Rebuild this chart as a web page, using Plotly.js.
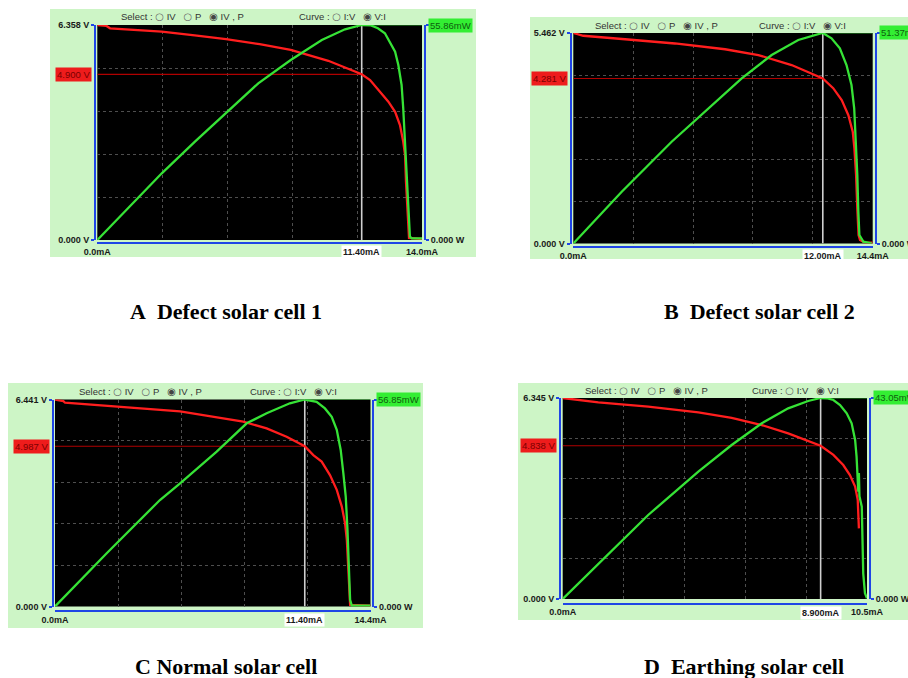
<!DOCTYPE html>
<html><head><meta charset="utf-8">
<script src="https://cdn.plot.ly/plotly-3.0.1.min.js"></script>
<style>html,body{margin:0;padding:0;background:#fff}#chart{width:908px;height:678px}</style>
</head><body><div id="chart"></div>
<script>
// ---------------- DATA ----------------
// Panel A : Defect solar cell 1
const iV_A = [0, 0.40, 0.55, 1.5, 2.78, 4.2, 5.55, 7.0, 8.34, 9.96, 10.8, 11.40, 11.76, 12.19, 12.55, 12.84, 13.05, 13.19, 13.27, 13.31, 13.37, 13.44, 14.0];
const v_A  = [6.358, 6.33, 6.26, 6.22, 6.16, 6.05, 5.94, 5.79, 5.62, 5.30, 5.08, 4.900, 4.73, 4.38, 4.09, 3.79, 3.40, 2.91, 2.51, 1.72, 0.74, 0.06, 0.03];
const iP_A = [0, 1.34, 2.78, 4.21, 5.55, 6.94, 8.34, 9.68, 10.68, 11.40, 11.80, 12.10, 12.40, 12.62, 12.84, 12.98, 13.12, 13.19, 13.27, 13.34, 13.41, 13.48, 13.56, 14.0];
const p_A  = [0, 8.3, 17.33, 25.54, 33.08, 40.71, 46.77, 51.96, 54.74, 55.86, 55.75, 55.0, 53.70, 51.10, 48.92, 45.47, 40.27, 34.30, 23.90, 15.14, 6.50, 0.86, 0.44, 0.44];
// Panel B : Defect solar cell 2
const iV_B = [0, 0.48, 2.49, 4.89, 7.30, 8.90, 10.50, 12.00, 12.50, 12.91, 13.23, 13.44, 13.52, 13.60, 13.66, 13.72, 13.79, 14.0, 14.4];
const v_B  = [5.462, 5.39, 5.30, 5.19, 5.04, 4.89, 4.63, 4.281, 4.03, 3.72, 3.33, 2.90, 2.47, 1.78, 0.91, 0.22, 0.09, 0.03, 0.02];
const iP_B = [0, 2.33, 4.73, 7.21, 8.10, 9.54, 10.82, 11.86, 12.00, 12.42, 12.82, 13.14, 13.38, 13.51, 13.60, 13.66, 13.71, 13.76, 13.95, 14.35];
const p_B  = [0, 12.64, 24.84, 36.24, 40.31, 46.00, 49.66, 51.2, 51.37, 50.08, 47.64, 43.56, 38.68, 32.99, 24.84, 16.72, 7.76, 2.07, 0.44, 0.05];
// Panel C : Normal solar cell
const iV_C = [0, 0.38, 0.46, 2.82, 5.71, 8.59, 9.66, 10.57, 11.40, 11.79, 12.17, 12.55, 12.86, 13.09, 13.24, 13.32, 13.39, 13.44, 13.47, 14.4];
const v_C  = [6.441, 6.39, 6.34, 6.22, 6.07, 5.75, 5.54, 5.28, 4.987, 4.71, 4.51, 4.09, 3.63, 3.11, 2.59, 2.07, 1.24, 0.51, 0.05, 0.03];
const iP_C = [0, 2.36, 4.79, 5.71, 7.38, 8.75, 9.66, 10.72, 11.40, 11.94, 12.32, 12.63, 12.86, 13.04, 13.16, 13.27, 13.35, 13.41, 13.47, 13.55, 14.38];
const p_C  = [0, 14.61, 29.25, 33.84, 42.51, 50.31, 53.06, 55.81, 56.85, 56.2, 54.4, 52.1, 48.5, 43.0, 36.6, 30.2, 21.0, 11.9, 1.8, 0.2, 0.2];
// Panel D : Earthing solar cell
const iV_D = [0, 1.23, 2.95, 4.68, 5.83, 6.87, 7.78, 8.47, 8.90, 9.34, 9.68, 9.91, 10.09, 10.18, 10.20, 10.22];
const v_D  = [6.345, 6.21, 6.07, 5.89, 5.72, 5.49, 5.23, 4.99, 4.838, 4.55, 4.23, 3.91, 3.55, 3.13, 2.71, 2.23];
const iP_D = [0, 1.23, 2.95, 4.68, 5.83, 6.87, 7.78, 8.47, 8.90, 9.11, 9.34, 9.57, 9.80, 9.97, 10.09, 10.14, 10.18, 10.20, 10.22, 10.24, 10.32, 10.35, 10.37, 10.43, 10.5];
const p_D  = [0, 7.5, 17.99, 27.27, 32.98, 37.63, 40.84, 42.41, 43.05, 43.0, 42.62, 41.55, 39.77, 37.63, 34.05, 30.48, 26.56, 23.0, 27.0, 22.0, 19.77, 12.64, 5.50, 1.22, 0.15];

// Axis extents, maximum power point
const vMax = [6.358, 5.462, 6.441, 6.345];
const iMax = [14.0, 14.4, 14.4, 10.5];
const pMax = [55.86, 51.37, 56.85, 43.05];
const iMp  = [11.40, 12.00, 11.40, 8.900];
const vMp  = [4.900, 4.281, 4.987, 4.838];

// Text
const vTopLabels   = ['6.358 V', '5.462 V', '6.441 V', '6.345 V'];
const vZeroLabel   = '0.000 V';
const pZeroLabel   = '0.000 W';
const iZeroLabel   = '0.0mA';
const iEndLabels   = ['14.0mA', '14.4mA', '14.4mA', '10.5mA'];
const cursorLabels = ['11.40mA', '12.00mA', '11.40mA', '8.900mA'];
const vMpLabels    = ['4.900 V', '4.281 V', '4.987 V', '4.838 V'];
const pMaxLabels   = ['55.86mW', '51.37mW', '56.85mW', '43.05mW'];
const captions     = ['A\u00a0\u00a0Defect solar cell 1', 'B\u00a0\u00a0Defect solar cell 2', 'C Normal solar cell', 'D\u00a0\u00a0Earthing solar cell'];
const OFF = '<span style="font-family:DejaVu Sans;font-size:10px;color:#666">\u25CB</span>';
const ON  = '<span style="font-family:DejaVu Sans;font-size:10px;color:#444">\u25C9</span>';
const selectText   = 'Select :\u00a0' + OFF + '\u00a0IV\u00a0\u00a0\u00a0' + OFF + '\u00a0P\u00a0\u00a0\u00a0' + ON + '\u00a0IV , P';
const curveText    = 'Curve :\u00a0' + OFF + '\u00a0I:V\u00a0\u00a0\u00a0' + ON + '\u00a0V:I';

const curI = [iV_A, iV_B, iV_C, iV_D], curV = [v_A, v_B, v_C, v_D];
const powI = [iP_A, iP_B, iP_C, iP_D], powP = [p_A, p_B, p_C, p_D];

// ---------------- LAYOUT GEOMETRY (pixels) ----------------
const W = 908, H = 678;
const px = x => x / W, py = y => 1 - y / H;
const geom = [
  {bg:[50,9,476,257],  plot:[97.3,25,422,240],   lx:95,    rx:425,   by:243,   hy:16,  sx:119, cx:297, capx:226, capy:311},
  {bg:[530,17,912,259],plot:[573.3,33,872.7,243.5],lx:570.5,rx:876,  by:247,   hy:25,  sx:593, cx:757, capx:759, capy:311},
  {bg:[8,383,423,628], plot:[55,399.5,370.5,606.5],lx:52.7, rx:373.3, by:611,   hy:391, sx:77,  cx:248, capx:226, capy:666},
  {bg:[518,383,912,620],plot:[562.7,398,867,599], lx:560,   rx:870,   by:603.5, hy:390, sx:583, cx:750, capx:744, capy:666}
];

const BLUE = '#1f45e6', PANEL = '#cdf5c6', RED = '#ff1e1e', GREEN = '#36e236';
const tickFont = {family:'Arial, "Liberation Sans", sans-serif', size:9, color:'#1a1a1a', weight:'bold'};
const headFont = {family:'Arial, "Liberation Sans", "DejaVu Sans", sans-serif', size:9.5, color:'#333'};

const traces = [], shapes = [], annotations = [];
const layout = {
  width: W, height: H, margin:{l:0,r:0,t:0,b:0},
  paper_bgcolor:'#ffffff', plot_bgcolor:'rgba(0,0,0,0)', showlegend:false
};

for (let k = 0; k < 4; k++) {
  const g = geom[k];
  const xa = k === 0 ? 'x' : 'x' + (k + 1);
  const y1 = k === 0 ? 'y' : 'y' + (2 * k + 1);
  const y2 = 'y' + (2 * k + 2);
  const xKey = k === 0 ? 'xaxis' : 'xaxis' + (k + 1);
  const y1Key = k === 0 ? 'yaxis' : 'yaxis' + (2 * k + 1);
  const y2Key = 'yaxis' + (2 * k + 2);
  const gridX = [1,2,3,4].map(d => iMax[k] * d / 5);
  const gridY = [1,2,3,4].map(d => vMax[k] * d / 5);

  shapes.push({type:'rect', xref:'paper', yref:'paper', layer:'below',
    x0:px(g.bg[0]), x1:px(g.bg[2]), y0:py(g.bg[3]), y1:py(g.bg[1]),
    fillcolor:PANEL, line:{width:0}});
  shapes.push({type:'rect', xref:'paper', yref:'paper', layer:'below',
    x0:px(g.plot[0]), x1:px(g.plot[2]), y0:py(g.plot[3]), y1:py(g.plot[1]),
    fillcolor:'#000000', line:{width:0}});

  traces.push({x:[iMp[k], iMp[k]], y:[0, vMax[k]], xaxis:xa, yaxis:y1, mode:'lines',
    line:{color:'#cfcfcf', width:1.6}, hoverinfo:'skip'});
  traces.push({x:[0, iMp[k]], y:[vMp[k], vMp[k]], xaxis:xa, yaxis:y1, mode:'lines',
    line:{color:'#b00000', width:1.2}, hoverinfo:'skip'});
  traces.push({x:curI[k], y:curV[k], xaxis:xa, yaxis:y1, mode:'lines',
    line:{color:RED, width:2.3}, name:'V'});
  traces.push({x:[iMp[k], iMax[k]], y:[pMax[k], pMax[k]], xaxis:xa, yaxis:y2, mode:'lines',
    line:{color:'#2a9a2a', width:1.2}, hoverinfo:'skip'});
  traces.push({x:powI[k], y:powP[k], xaxis:xa, yaxis:y2, mode:'lines',
    line:{color:GREEN, width:2.3}, name:'P'});

  layout[xKey] = {
    domain:[px(g.plot[0]), px(g.plot[2])], range:[0, iMax[k]], anchor:'free', position:py(g.by),
    showline:true, linecolor:BLUE, linewidth:2, ticks:'inside', ticklen:4, tickwidth:2, tickcolor:BLUE,
    tickmode:'array', tickvals:[0, iMax[k]], ticktext:[iZeroLabel, iEndLabels[k]], tickfont:tickFont,
    showgrid:false, zeroline:false, fixedrange:true,
    minor:{tickmode:'array', tickvals:gridX, showgrid:true, gridcolor:'#4e4e4e', griddash:'dot', gridwidth:1, ticks:''}
  };
  layout[y1Key] = {
    domain:[py(g.plot[3]), py(g.plot[1])], range:[0, vMax[k]], anchor:'free', position:px(g.lx), side:'left',
    showline:true, linecolor:BLUE, linewidth:2, ticks:'outside', ticklen:3, tickwidth:2, tickcolor:BLUE,
    tickmode:'array', tickvals:[0, vMax[k]], ticktext:[vZeroLabel, vTopLabels[k]], tickfont:tickFont,
    showgrid:false, zeroline:false, fixedrange:true,
    minor:{tickmode:'array', tickvals:gridY, showgrid:true, gridcolor:'#4e4e4e', griddash:'dot', gridwidth:1, ticks:''}
  };
  layout[y2Key] = {
    overlaying:y1, side:'right', anchor:'free', position:px(g.rx), range:[0, pMax[k]],
    showline:true, linecolor:BLUE, linewidth:2, ticks:'outside', ticklen:3, tickwidth:2, tickcolor:BLUE,
    tickmode:'array', tickvals:[0, pMax[k]], ticktext:[pZeroLabel, ''], tickfont:tickFont,
    showgrid:false, zeroline:false, fixedrange:true
  };

  annotations.push({xref:'paper', yref:'paper', x:px(g.sx), y:py(g.hy), xanchor:'left', yanchor:'middle',
    text:selectText, showarrow:false, font:headFont});
  annotations.push({xref:'paper', yref:'paper', x:px(g.cx), y:py(g.hy), xanchor:'left', yanchor:'middle',
    text:curveText, showarrow:false, font:headFont});
  annotations.push({xref:'paper', yref:y1, x:px(g.lx - 3), y:vMp[k], xanchor:'right', yanchor:'middle',
    text:vMpLabels[k], showarrow:false, bgcolor:'#ee1c1c', borderpad:1,
    font:{family:'Arial, "Liberation Sans", sans-serif', size:9.5, color:'#7a0000'}});
  annotations.push({xref:'paper', yref:y2, x:px(g.rx + 3), y:pMax[k], xanchor:'left', yanchor:'middle',
    text:pMaxLabels[k], showarrow:false, bgcolor:'#33ee33', borderpad:1,
    font:{family:'Arial, "Liberation Sans", sans-serif', size:9.5, color:'#0e5e0e'}});
  annotations.push({xref:xa, yref:'paper', x:iMp[k], y:py(g.by + 9), xanchor:'center', yanchor:'middle',
    text:cursorLabels[k], showarrow:false, bgcolor:'#ffffff', borderpad:1, font:tickFont});
  annotations.push({xref:'paper', yref:'paper', x:px(g.capx), y:py(g.capy), xanchor:'center', yanchor:'middle',
    text:'<b>' + captions[k] + '</b>', showarrow:false,
    font:{family:'"Liberation Serif", "Times New Roman", serif', size:22, color:'#000'}});
}
layout.shapes = shapes;
layout.annotations = annotations;

Plotly.newPlot('chart', traces, layout, {staticPlot:true, displayModeBar:false});
</script>
</body></html>
